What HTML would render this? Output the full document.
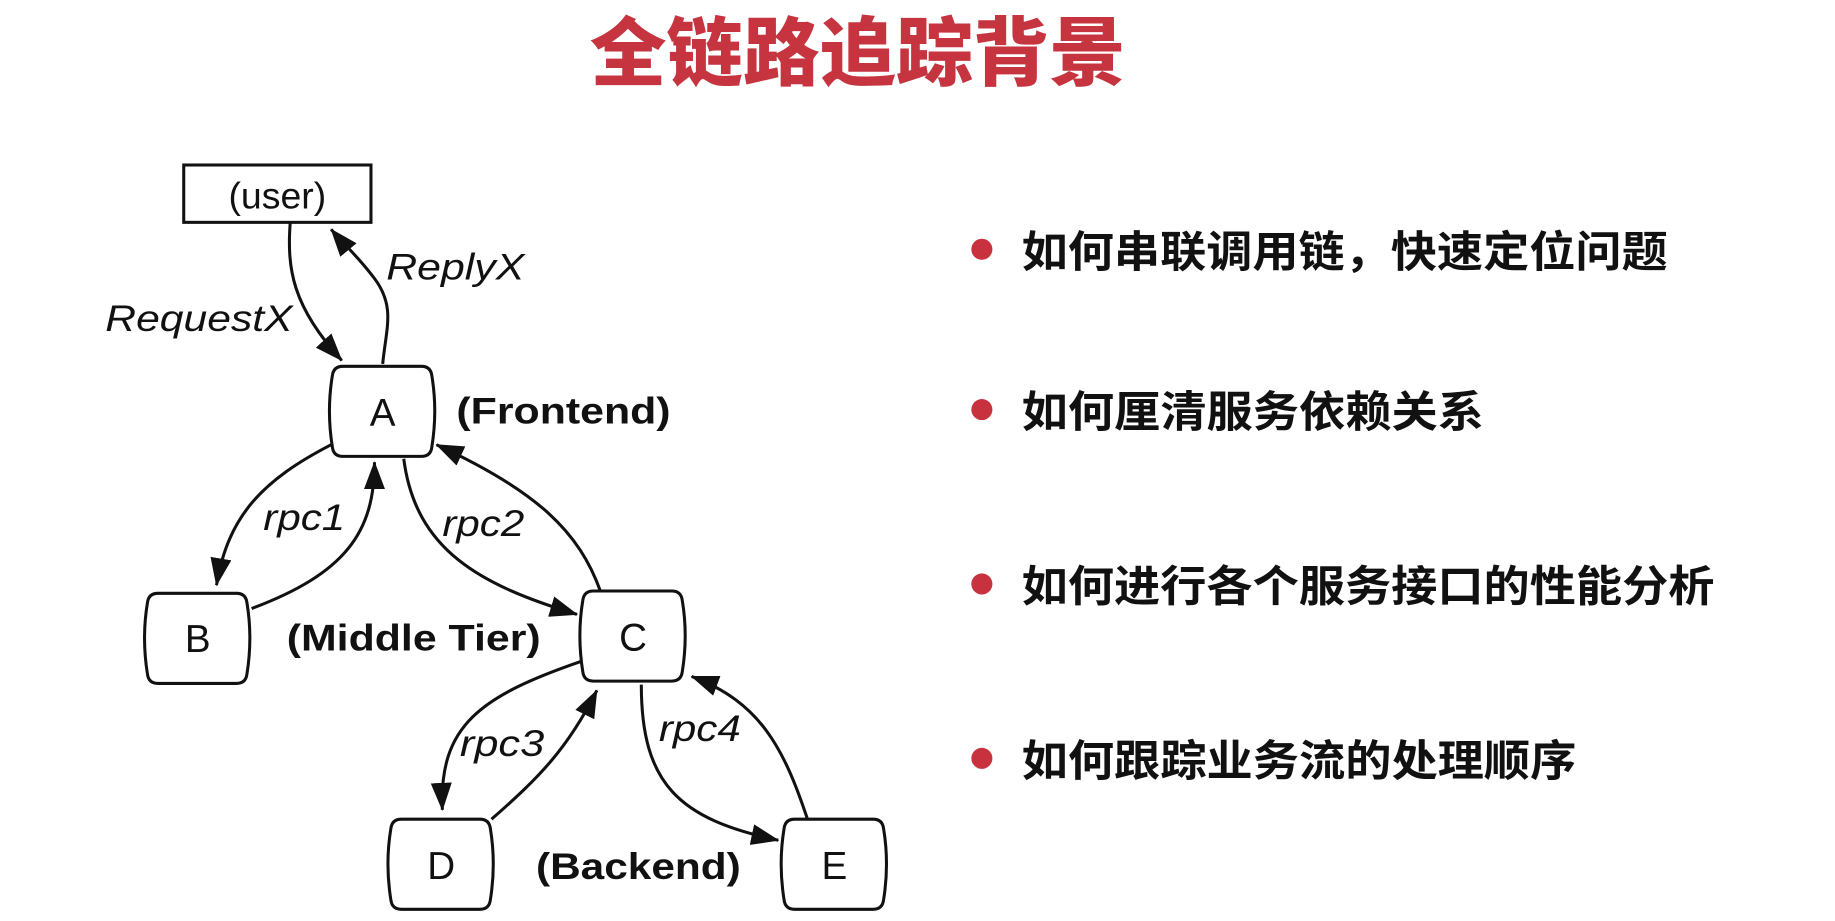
<!DOCTYPE html>
<html><head><meta charset="utf-8"><style>
html,body{margin:0;padding:0;background:#fff;width:1835px;height:921px;overflow:hidden}
svg{display:block}
</style></head><body>
<svg width="1835" height="921" viewBox="0 0 1568 787" preserveAspectRatio="none" xmlns="http://www.w3.org/2000/svg">
<defs>
<marker id="ah" markerWidth="24" markerHeight="18" refX="23" refY="9" orient="auto" markerUnits="userSpaceOnUse">
<path d="M0,0 L24,9 L0,18 Z" fill="#111"/>
</marker>
<path id="nd" d="M10,0 L77,0 Q85,0 86,8 Q91,38 86,69 Q85,77 77,77 L10,77 Q2,77 1,69 Q-4,38 1,8 Q2,0 10,0 Z"/>
</defs>
<rect width="1568" height="787" fill="#fff"/>
<text x="733" y="68" text-anchor="middle" font-family="'Liberation Sans','Noto Sans CJK SC',sans-serif" font-weight="900" font-size="64" fill="#c63440" textLength="458" lengthAdjust="spacingAndGlyphs">全链路追踪背景</text>

<g fill="none" stroke="#111" stroke-width="2.6">
<rect x="157" y="141" width="160" height="49"/>
<use href="#nd" x="283" y="313"/>
<use href="#nd" x="125" y="507"/>
<use href="#nd" x="497" y="505"/>
<use href="#nd" x="333" y="700"/>
<use href="#nd" x="669" y="700"/>

<path d="M248,190 C245,230 250,262 292,308" marker-end="url(#ah)"/>
<path d="M327,311 C330,280 338,262 320,238 C305,218 293,208 283,196" marker-end="url(#ah)"/>
<path d="M283,380 C225,410 195,440 185,500" marker-end="url(#ah)"/>
<path d="M215,520 C295,490 320,455 320,395" marker-end="url(#ah)"/>
<path d="M345,392 C355,470 410,500 493,525" marker-end="url(#ah)"/>
<path d="M513,505 C495,455 460,420 373,380" marker-end="url(#ah)"/>
<path d="M497,565 C410,595 375,620 378,692" marker-end="url(#ah)"/>
<path d="M420,700 C460,665 485,640 510,590" marker-end="url(#ah)"/>
<path d="M548,585 C548,670 580,700 665,718" marker-end="url(#ah)"/>
<path d="M690,700 C670,640 650,600 591,578" marker-end="url(#ah)"/>
</g>

<g font-family="'Liberation Sans',sans-serif" fill="#111">
<text x="237" y="178" font-size="32" text-anchor="middle">(user)</text>
<text x="327" y="364" font-size="33" text-anchor="middle">A</text>
<text x="169" y="557" font-size="33" text-anchor="middle">B</text>
<text x="541" y="556" font-size="33" text-anchor="middle">C</text>
<text x="377" y="751" font-size="33" text-anchor="middle">D</text>
<text x="713" y="751" font-size="33" text-anchor="middle">E</text>
<g font-weight="bold" font-size="32" lengthAdjust="spacingAndGlyphs">
<text x="390" y="362" textLength="183" lengthAdjust="spacingAndGlyphs">(Frontend)</text>
<text x="245" y="556" textLength="217" lengthAdjust="spacingAndGlyphs">(Middle Tier)</text>
<text x="458" y="751" textLength="175" lengthAdjust="spacingAndGlyphs">(Backend)</text>
</g>
<g font-style="italic" font-size="32">
<text x="90" y="283" textLength="160" lengthAdjust="spacingAndGlyphs">RequestX</text>
<text x="330" y="239" textLength="118" lengthAdjust="spacingAndGlyphs">ReplyX</text>
<text x="225" y="453" textLength="70" lengthAdjust="spacingAndGlyphs">rpc1</text>
<text x="378" y="458" textLength="70" lengthAdjust="spacingAndGlyphs">rpc2</text>
<text x="393" y="646" textLength="72" lengthAdjust="spacingAndGlyphs">rpc3</text>
<text x="563" y="633" textLength="70" lengthAdjust="spacingAndGlyphs">rpc4</text>
</g>
</g>

<g fill="#c8323f">
<circle cx="839" cy="213" r="9"/>
<circle cx="839" cy="350" r="9"/>
<circle cx="839" cy="499" r="9"/>
<circle cx="839" cy="648" r="9"/>
</g>
<g font-family="'Liberation Sans','Noto Sans CJK SC',sans-serif" font-weight="bold" font-size="37" fill="#111">
<text x="873" y="228" textLength="552" lengthAdjust="spacingAndGlyphs">如何串联调用链，快速定位问题</text>
<text x="873" y="365" textLength="395" lengthAdjust="spacingAndGlyphs">如何厘清服务依赖关系</text>
<text x="873" y="514" textLength="592" lengthAdjust="spacingAndGlyphs">如何进行各个服务接口的性能分析</text>
<text x="873" y="663" textLength="474" lengthAdjust="spacingAndGlyphs">如何跟踪业务流的处理顺序</text>
</g>
</svg>
</body></html>
